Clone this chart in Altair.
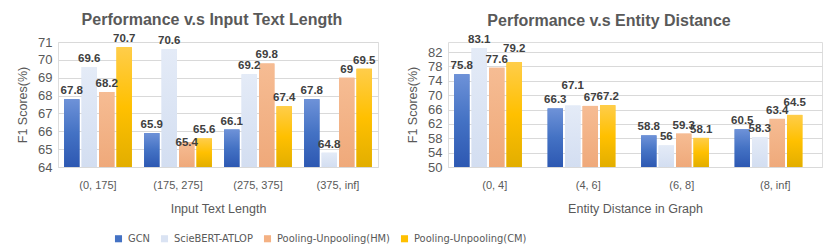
import altair as alt
import pandas as pd

series = ["GCN", "ScieBERT-ATLOP", "Pooling-Unpooling(HM)", "Pooling-Unpooling(CM)"]
flat_colors = ["#4472C4", "#DAE3F3", "#F4B183", "#FFC000"]

len_cats = ["(0, 175]", "(175, 275]", "(275, 375]", "(375, inf]"]
len_gcn = [67.8, 65.9, 66.1, 67.8]
len_scie = [69.6, 70.6, 69.2, 64.8]
len_hm = [68.2, 65.4, 69.8, 69.0]
len_cm = [70.7, 65.6, 67.4, 69.5]

dist_cats = ["(0, 4]", "(4, 6]", "(6, 8]", "(8, inf]"]
dist_gcn = [75.8, 66.3, 58.8, 60.5]
dist_scie = [83.1, 67.1, 56.0, 58.3]
dist_hm = [77.6, 67.0, 59.3, 63.4]
dist_cm = [79.2, 67.2, 58.1, 64.5]

FONT = "Liberation Sans"
NARROW = "Liberation Sans Narrow, Arial Narrow, DejaVu Sans Condensed, Liberation Sans"
GREY = "#595959"


def grad(stops):
    return {
        "gradient": "linear", "x1": 0, "x2": 0, "y1": 0, "y2": 1,
        "stops": [{"offset": o, "color": c} for o, c in stops],
    }


grads = [
    grad([(0, "#6E92D8"), (0.5, "#4472C4"), (1, "#2D58B2")]),
    grad([(0, "#E4EBF7"), (1, "#D3DEF1")]),
    grad([(0, "#F6BC93"), (1, "#EFA97A")]),
    grad([(0, "#FFCD4A"), (0.5, "#FFC000"), (1, "#E2AE00")]),
]


def make_df(cats, vals):
    rows = []
    for s, vs in zip(series, vals):
        for c, v in zip(cats, vs):
            rows.append({"cat": c, "series": s, "value": v})
    return pd.DataFrame(rows)


def panel(cats, vals, title, xtitle, ymin, ymax, yticks, width, show_legend, po, nudges, tdx):
    df = make_df(cats, vals)
    base = alt.Chart(df).encode(
        x=alt.X("cat:N", sort=cats, title=xtitle,
                scale=alt.Scale(paddingInner=0, paddingOuter=0),
                axis=alt.Axis(labelAngle=0, labelFontSize=11, labelColor=GREY,
                              titleFontSize=12.5, titleColor=GREY, titleFontWeight="normal",
                              labelPadding=12, titlePadding=12, domain=False, ticks=False,
                              grid=False, labelFont=FONT, titleFont=FONT)),
        xOffset=alt.XOffset("series:N", sort=series,
                            scale=alt.Scale(paddingInner=0.12, paddingOuter=po)),
    )
    yenc = alt.Y("value:Q", title="F1 Scores(%)",
                 scale=alt.Scale(domain=[ymin, ymax], zero=False, nice=False),
                 axis=alt.Axis(values=yticks, labelFontSize=13, labelColor=GREY,
                               titleFontSize=12.5, titleColor=GREY, titleFontWeight="normal",
                               domain=False, ticks=False, gridColor="#D9D9D9",
                               labelPadding=6, titlePadding=8, labelFont=FONT, titleFont=FONT))
    if show_legend:
        leg = alt.Legend(title=None, orient="none", legendX=55, legendY=191,
                         direction="horizontal", symbolType="square", symbolSize=50,
                         symbolStrokeWidth=0, labelFontSize=11, labelColor=GREY,
                         labelFont=NARROW, columnPadding=9, labelOffset=4)
    else:
        leg = None
    flat = base.mark_bar().encode(
        y=yenc, y2=alt.datum(ymin),
        color=alt.Color("series:N", sort=series,
                        scale=alt.Scale(domain=series, range=flat_colors), legend=leg),
    )
    conds = [{"test": f"datum.series === '{s}'", "value": g} for s, g in zip(series[:3], grads[:3])]
    shaded = base.mark_bar().encode(
        y=yenc, y2=alt.datum(ymin),
        fill={"condition": conds, "value": grads[3]},
    )
    layers = [flat, shaded]
    nudge_tests = [f"(datum.cat === '{c}' && datum.series === '{s}')" for c, s, _ in nudges]
    plain_test = "!(" + (" || ".join(nudge_tests) if nudge_tests else "false") + ")"
    text_kw = dict(fontWeight="bold", fontSize=11.5, color="#404040", font=FONT)
    tenc = dict(y=yenc, text=alt.Text("value:Q", format="~g"))
    layers.append(base.transform_filter(plain_test).mark_text(dy=-8, **text_kw).encode(**tenc))
    for t, (_, _, off) in zip(nudge_tests, nudges):
        layers.append(base.transform_filter(t).mark_text(dy=-8 + off, **text_kw).encode(**tenc))
    return alt.layer(*layers).properties(
        width=width, height=125,
        title=alt.TitleParams(title, fontSize=16, fontWeight="bold", color=GREY,
                              font=FONT, offset=5, dx=tdx),
    )


left = panel(len_cats, [len_gcn, len_scie, len_hm, len_cm],
             "Performance v.s Input Text Length", "Input Text Length",
             64, 71, [64, 65, 66, 67, 68, 69, 70, 71], 320, True, 0.35,
             [("(175, 275]", "Pooling-Unpooling(HM)", 9)], -6)
right = panel(dist_cats, [dist_gcn, dist_scie, dist_hm, dist_cm],
              "Performance v.s Entity Distance", "Entity Distance in Graph",
              50, 84.8, [50, 54, 58, 62, 66, 70, 74, 78, 82], 374, False, 0.4,
              [("(4, 6]", "ScieBERT-ATLOP", -12), ("(0, 4]", "Pooling-Unpooling(CM)", -5),
               ("(8, inf]", "Pooling-Unpooling(CM)", -4)], -26)

chart = alt.hconcat(left, right, spacing=70, bounds="flush").resolve_scale(
    color="independent").configure_view(stroke=None).configure(
    padding={"left": 8, "top": 3, "right": 0, "bottom": 0})

chart.save("out.html", embed_options={"renderer": "svg", "actions": False})
